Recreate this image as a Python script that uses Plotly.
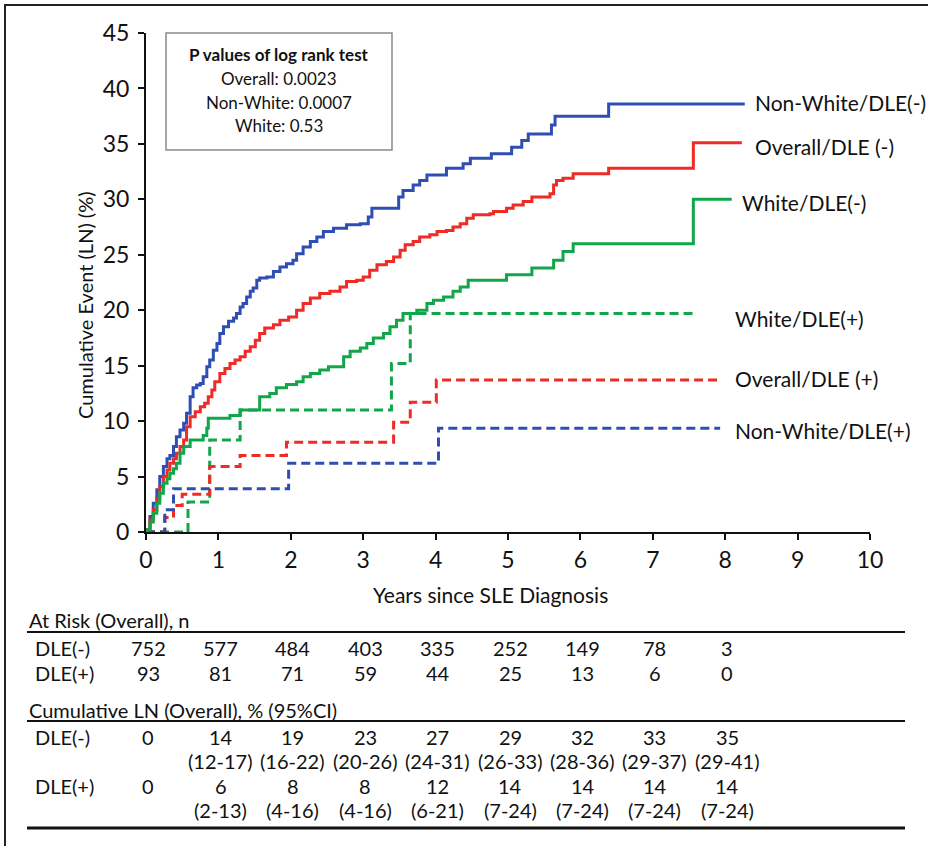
import plotly.graph_objects as go

# ---------------- data ----------------
x_ticks = [0, 1, 2, 3, 4, 5, 6, 7, 8, 9, 10]
y_ticks = [0, 5, 10, 15, 20, 25, 30, 35, 40, 45]

# Non-White / DLE(-)
nw_neg_t = [0, 0.01, 0.055, 0.10, 0.15, 0.19, 0.24, 0.29, 0.33, 0.38,
            0.42, 0.47, 0.52, 0.56, 0.61, 0.65, 0.70, 0.75, 0.79, 0.84,
            0.88, 0.93, 0.98, 1.02, 1.07, 1.14, 1.21, 1.25, 1.30, 1.34,
            1.39, 1.44, 1.48, 1.53, 1.57, 1.67, 1.76, 1.85, 1.94, 2.03,
            2.08, 2.17, 2.27, 2.36, 2.45, 2.59, 2.77, 2.96, 3.07, 3.12,
            3.49, 3.55, 3.69, 3.78, 3.88, 4.15, 4.38, 4.48, 4.77, 5.05,
            5.19, 5.28, 5.60, 5.65, 6.39, 8.27]
nw_neg_v = [0, 0.2, 1.4, 2.6, 3.8, 5.0, 5.9, 6.6, 6.9, 7.7,
            8.6, 9.2, 9.8, 10.7, 12.2, 13.0, 13.25, 13.4, 14.0, 14.9,
            15.5, 16.4, 17.0, 17.9, 18.5, 19.0, 19.3, 19.7, 20.3, 20.6,
            21.2, 21.7, 22.0, 22.7, 22.9, 23.0, 23.5, 23.9, 24.2, 24.5,
            25.1, 25.7, 26.2, 26.6, 27.1, 27.4, 27.7, 27.8, 28.4, 29.2,
            30.2, 30.8, 31.3, 31.7, 32.2, 32.8, 33.2, 33.7, 34.1, 34.7,
            35.3, 35.9, 36.7, 37.5, 38.6, 38.6]

# Overall / DLE(-)
ov_neg_t = [0, 0.01, 0.055, 0.10, 0.15, 0.19, 0.24, 0.29, 0.33, 0.38,
            0.42, 0.47, 0.52, 0.56, 0.61, 0.68, 0.75, 0.81, 0.86, 0.91,
            0.95, 1.02, 1.09, 1.16, 1.23, 1.30, 1.37, 1.44, 1.51, 1.57,
            1.64, 1.76, 1.85, 1.97, 2.08, 2.17, 2.27, 2.40, 2.54, 2.68,
            2.77, 2.91, 3.00, 3.09, 3.19, 3.32, 3.42, 3.51, 3.58, 3.69,
            3.78, 3.92, 4.02, 4.15, 4.24, 4.34, 4.43, 4.52, 4.75, 4.80,
            4.98, 5.07, 5.21, 5.33, 5.58, 5.63, 5.67, 5.76, 5.90, 6.39,
            7.56, 8.23]
ov_neg_v = [0, 0.2, 1.1, 2.0, 3.0, 4.1, 5.0, 5.6, 6.2, 6.6,
            7.1, 7.7, 8.3, 9.5, 10.4, 10.85, 11.3, 11.6, 12.2, 12.8,
            13.55, 14.3, 14.75, 15.2, 15.5, 15.8, 16.3, 16.7, 17.3, 17.9,
            18.4, 18.7, 19.1, 19.4, 20.0, 20.6, 21.1, 21.5, 21.7, 22.1,
            22.6, 22.7, 23.0, 23.6, 24.1, 24.4, 24.8, 25.4, 25.9, 26.2,
            26.6, 26.8, 27.1, 27.2, 27.5, 27.8, 28.3, 28.6, 28.7, 28.9,
            29.2, 29.5, 29.8, 30.2, 30.5, 31.3, 31.7, 31.9, 32.3, 32.8,
            35.1, 35.1]

# White / DLE(-)
w_neg_t = [0, 0.01, 0.055, 0.10, 0.15, 0.19, 0.24, 0.29, 0.33, 0.38,
           0.42, 0.47, 0.52, 0.61, 0.79, 0.84, 0.86, 1.16, 1.30, 1.57,
           1.71, 1.80, 1.94, 2.08, 2.17, 2.27, 2.40, 2.52, 2.73, 2.82,
           2.96, 3.05, 3.14, 3.28, 3.37, 3.46, 3.55, 3.74, 3.88, 3.97,
           4.11, 4.24, 4.34, 4.45, 4.98, 5.33, 5.63, 5.76, 5.90, 7.56,
           8.09]
w_neg_v = [0, 0.2, 0.9, 1.7, 2.6, 3.5, 4.4, 4.8, 5.3, 5.7,
           6.2, 7.1, 7.7, 8.3, 8.7, 9.35, 10.25, 10.5, 11.0, 12.2,
           12.5, 13.0, 13.3, 13.55, 14.0, 14.3, 14.6, 14.9, 15.8, 16.3,
           16.6, 17.0, 17.5, 17.9, 18.5, 19.1, 19.7, 20.0, 20.6, 20.9,
           21.2, 21.7, 22.1, 22.7, 23.2, 23.8, 24.5, 25.3, 26.0, 30.0,
           30.0]

# White / DLE(+)
w_pos_t = [0, 0.58, 0.88, 1.30, 3.39, 3.65, 7.60]
w_pos_v = [0, 2.7, 8.3, 11.0, 15.2, 19.7, 19.7]

# Overall / DLE(+)
ov_pos_t = [0, 0.26, 0.38, 0.50, 0.88, 1.30, 1.94, 3.42, 3.65, 4.01, 7.93]
ov_pos_v = [0, 1.3, 2.4, 3.4, 5.9, 6.9, 8.1, 9.9, 11.7, 13.7, 13.7]

# Non-White / DLE(+)
nw_pos_t = [0, 0.26, 0.38, 1.97, 4.04, 7.93]
nw_pos_v = [0, 2.0, 3.9, 6.2, 9.35, 9.35]

series_names = ["Non-White/DLE(-)", "Overall/DLE (-)", "White/DLE(-)",
                "White/DLE(+)", "Overall/DLE (+)", "Non-White/DLE(+)"]

# table
table_years = [0, 1, 2, 3, 4, 5, 6, 7, 8]
at_risk_neg = [752, 577, 484, 403, 335, 252, 149, 78, 3]
at_risk_pos = [93, 81, 71, 59, 44, 25, 13, 6, 0]
cum_neg = [0, 14, 19, 23, 27, 29, 32, 33, 35]
cum_neg_ci = ["", "(12-17)", "(16-22)", "(20-26)", "(24-31)", "(26-33)", "(28-36)", "(29-37)", "(29-41)"]
cum_pos = [0, 6, 8, 8, 12, 14, 14, 14, 14]
cum_pos_ci = ["", "(2-13)", "(4-16)", "(4-16)", "(6-21)", "(7-24)", "(7-24)", "(7-24)", "(7-24)"]

pvalue_lines = ["Overall: 0.0023", "Non-White: 0.0007", "White: 0.53"]

# ---------------- styling ----------------
W, H = 928, 846
L, R, T, B = 146, 58, 33, 314
PW, PH = W - L - R, H - T - B
FONT = "Lato, Open Sans, sans-serif"
BLUE, RED, GREEN = "#2F4EB4", "#EE2B24", "#12A64A"


def px(xp):
    return (xp - L) / PW


def py(yp):
    return (H - B - yp) / PH


fig = go.Figure()

solid = [(nw_neg_t, nw_neg_v, BLUE, series_names[0]),
         (ov_neg_t, ov_neg_v, RED, series_names[1]),
         (w_neg_t, w_neg_v, GREEN, series_names[2])]
dashed = [(w_pos_t, w_pos_v, GREEN, series_names[3]),
          (ov_pos_t, ov_pos_v, RED, series_names[4]),
          (nw_pos_t, nw_pos_v, BLUE, series_names[5])]

for t, v, c, n in dashed:
    fig.add_trace(go.Scatter(x=t, y=v, mode="lines", line_shape="hv", name=n,
                             line=dict(color=c, width=3, dash="9px,5px")))
for t, v, c, n in solid:
    fig.add_trace(go.Scatter(x=t, y=v, mode="lines", line_shape="hv", name=n,
                             line=dict(color=c, width=3)))

ann = []
# series labels
label_pos = [(753, 102), (753, 146), (740, 202), (733, 318), (733, 378), (733, 430)]
for name, (xp, yp) in zip(series_names, label_pos):
    ann.append(dict(x=px(xp), y=py(yp), xref="paper", yref="paper", text=name,
                    showarrow=False, xanchor="left", yanchor="middle",
                    font=dict(family=FONT, size=21, color="#111")))

# p-value box
ann.append(dict(x=px(279), y=py(54), xref="paper", yref="paper",
                text="<b>P values of log rank test</b>", showarrow=False,
                xanchor="center", yanchor="middle",
                font=dict(family=FONT, size=17, color="#111")))
for i, s in enumerate(pvalue_lines):
    ann.append(dict(x=px(279), y=py(78 + 24 * i), xref="paper", yref="paper",
                    text=s, showarrow=False, xanchor="center", yanchor="middle",
                    font=dict(family=FONT, size=17, color="#111")))

# axis titles
ann.append(dict(x=px(490), y=py(594), xref="paper", yref="paper",
                text="Years since SLE Diagnosis", showarrow=False,
                xanchor="center", yanchor="middle",
                font=dict(family=FONT, size=21, color="#111")))
ann.append(dict(x=px(85), y=py(305), xref="paper", yref="paper",
                text="Cumulative Event (LN) (%)", showarrow=False, textangle=-90,
                xanchor="center", yanchor="middle",
                font=dict(family=FONT, size=20, color="#111")))

# table
TF = dict(family=FONT, size=20, color="#111")


def tann(xp_or_year, yp, text, use_x=False, anchor="center"):
    if use_x:
        return dict(x=xp_or_year, y=py(yp), xref="x", yref="paper", text=text,
                    showarrow=False, xanchor=anchor, yanchor="middle", font=TF)
    return dict(x=px(xp_or_year), y=py(yp), xref="paper", yref="paper", text=text,
                showarrow=False, xanchor=anchor, yanchor="middle", font=TF)


ann.append(tann(27, 620, "At Risk (Overall), n", anchor="left"))
ann.append(tann(33, 648, "DLE(-)", anchor="left"))
ann.append(tann(33, 673, "DLE(+)", anchor="left"))
ann.append(tann(27, 710, "Cumulative LN (Overall), % (95%CI)", anchor="left"))
ann.append(tann(33, 737, "DLE(-)", anchor="left"))
ann.append(tann(33, 786, "DLE(+)", anchor="left"))
for i, yr in enumerate(table_years):
    ann.append(tann(yr + 0.03, 648, str(at_risk_neg[i]), use_x=True))
    ann.append(tann(yr + 0.03, 673, str(at_risk_pos[i]), use_x=True))
    ann.append(tann(yr + 0.03, 737, str(cum_neg[i]), use_x=True))
    ann.append(tann(yr + 0.03, 786, str(cum_pos[i]), use_x=True))
    if cum_neg_ci[i]:
        ann.append(tann(yr + 0.03, 761, cum_neg_ci[i], use_x=True))
    if cum_pos_ci[i]:
        ann.append(tann(yr + 0.03, 810, cum_pos_ci[i], use_x=True))

shapes = [
    # outer frame (only top and left edges fall inside the canvas)
    dict(type="rect", xref="paper", yref="paper", x0=px(5), x1=px(960),
         y0=py(880), y1=py(5), line=dict(color="#222", width=2), layer="below"),
    # p-value box
    dict(type="rect", xref="paper", yref="paper", x0=px(166), x1=px(392),
         y0=py(150), y1=py(33), line=dict(color="#8a8a8a", width=1.5)),
    # table rules
    dict(type="line", xref="paper", yref="paper", x0=px(27), x1=px(905),
         y0=py(632), y1=py(632), line=dict(color="#111", width=2)),
    dict(type="line", xref="paper", yref="paper", x0=px(27), x1=px(905),
         y0=py(721), y1=py(721), line=dict(color="#111", width=2)),
    dict(type="line", xref="paper", yref="paper", x0=px(27), x1=px(905),
         y0=py(828), y1=py(828), line=dict(color="#111", width=3)),
]

fig.update_layout(
    width=W, height=H, margin=dict(l=L, r=R, t=T, b=B, pad=0),
    paper_bgcolor="white", plot_bgcolor="rgba(0,0,0,0)", showlegend=False,
    annotations=ann, shapes=shapes,
    xaxis=dict(range=[0, 10], tickvals=x_ticks, ticks="outside", ticklen=6,
               tickwidth=2, tickcolor="#111", showline=True, linewidth=2,
               linecolor="#111", showgrid=False, zeroline=False,
               tickfont=dict(family=FONT, size=23, color="#111")),
    yaxis=dict(range=[0, 45], tickvals=y_ticks, ticks="outside", ticklen=6,
               tickwidth=2, tickcolor="#111", showline=True, linewidth=2,
               linecolor="#111", showgrid=False, zeroline=False,
               ticklabelstandoff=4,
               tickfont=dict(family=FONT, size=23, color="#111")),
)

fig.write_html("out.html", config={"displayModeBar": False},
               post_script="document.body.style.margin='0';"
                           "document.body.style.overflow='hidden';")
